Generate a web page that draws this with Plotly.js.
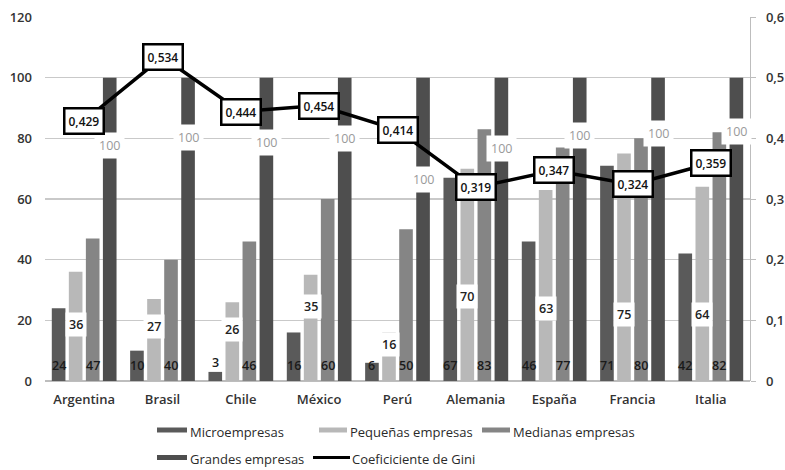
<!DOCTYPE html>
<html>
<head>
<meta charset="utf-8">
<script src="https://cdn.plot.ly/plotly-3.0.1.min.js"></script>
<style>html,body{margin:0;padding:0;background:#fff}</style>
</head>
<body>
<div id="chart" style="width:785px;height:470px"></div>
<script>
// Firm-size shares by country and the Gini coefficient
const countries = ['Argentina', 'Brasil', 'Chile', 'México', 'Perú', 'Alemania', 'España', 'Francia', 'Italia'];
const micro     = [24, 10, 3, 16, 6, 67, 46, 71, 42];
const pequenas  = [36, 27, 26, 35, 16, 70, 63, 75, 64];
const medianas  = [47, 40, 46, 60, 50, 83, 77, 80, 82];
const grandes   = [100, 100, 100, 100, 100, 100, 100, 100, 100];
const gini      = [0.429, 0.534, 0.444, 0.454, 0.414, 0.319, 0.347, 0.324, 0.359];
const seriesNames = ['Microempresas', 'Pequeñas empresas', 'Medianas empresas', 'Grandes empresas', 'Coeficiciente de Gini'];
const leftTicks  = [0, 20, 40, 60, 80, 100, 120];
const rightTicks = [0, 0.1, 0.2, 0.3, 0.4, 0.5, 0.6];

// where the boxed labels sit along each bar (left-axis units)
const pequenasLabelAt = [18.5, 18, 17, 24.5, 12, 28, 24, 22, 22];
const grandesLabelAt  = [77.5, 80.2, 78.5, 79.8, 66.3, 76.5, 81.1, 81.7, 82.4];

const colors = ['#5a5a5a', '#b8b8b8', '#858585', '#4e4e4e'];
const FONT = 'Open Sans, Lato, sans-serif';

// plot geometry
const M = {l: 45, r: 35, t: 17, b: 89};
const W = 785, H = 470;
const PW = W - M.l - M.r, PH = H - M.t - M.b;
const BARGAP = 0.13, GROUPGAP = 0.2;
const slot = (1 - BARGAP) / 4;
const offs = [-1.5 * slot, -0.5 * slot, 0.5 * slot, 1.5 * slot];

const barSeries = [micro, pequenas, medianas, grandes];
const traces = barSeries.map((vals, k) => ({
  type: 'bar',
  name: seriesNames[k],
  x: countries,
  y: vals,
  marker: {color: colors[k], line: {width: 0}},
  hoverinfo: 'skip'
}));
traces.push({
  type: 'scatter',
  mode: 'lines',
  name: seriesNames[4],
  x: countries,
  y: gini,
  yaxis: 'y2',
  line: {color: '#000', width: 3.5},
  hoverinfo: 'skip'
});

const ann = [];
const comma = v => String(v).replace('.', ',');

countries.forEach((c, i) => {
  // values at the foot of micro and medium bars
  ann.push({xref: 'x', yref: 'y', x: i + offs[0], y: micro[i] < 5 ? micro[i] + 3 : 5,
    text: String(micro[i]), showarrow: false,
    font: {family: FONT, size: 12.5, color: '#1a1a1a', weight: 600}});
  ann.push({xref: 'x', yref: 'y', x: i + offs[2], y: 5,
    text: String(medianas[i]), showarrow: false,
    font: {family: FONT, size: 12.5, color: '#1a1a1a', weight: 600}});
  // boxed small-firm value
  ann.push({xref: 'x', yref: 'y', x: i + offs[1], y: pequenasLabelAt[i],
    text: String(pequenas[i]), showarrow: false, bgcolor: '#fff', borderpad: 3,
    font: {family: FONT, size: 12.5, color: '#222', weight: 600}});
  // boxed large-firm value
  ann.push({xref: 'x', yref: 'y', x: i + offs[3], y: grandesLabelAt[i],
    text: String(grandes[i]), showarrow: false, bgcolor: '#fff', borderpad: 4,
    font: {family: FONT, size: 12.5, color: '#9a9a9a', weight: 500}});
  // Gini value boxes
  ann.push({xref: 'x', yref: 'y2', x: i, y: gini[i],
    text: gini[i].toFixed(3).replace('.', ','), showarrow: false,
    bgcolor: '#fff', bordercolor: '#000', borderwidth: 2.5, borderpad: 3,
    font: {family: FONT, size: 12, color: '#111', weight: 600}});
});

// legend drawn in paper space
const px2x = px => (px - M.l) / PW;
const py2y = py => (M.t + PH - py) / PH;
const legendItems = [
  {x0: 157, x1: 187, tx: 189, cy: 430, kind: 'bar'},
  {x0: 319, x1: 347, tx: 349, cy: 430, kind: 'bar'},
  {x0: 482, x1: 510, tx: 512, cy: 430, kind: 'bar'},
  {x0: 157, x1: 187, tx: 189, cy: 457.5, kind: 'bar'},
  {x0: 313, x1: 350, tx: 351, cy: 457.5, kind: 'line'}
];
const shapes = [];
legendItems.forEach((it, k) => {
  if (it.kind === 'bar') {
    shapes.push({type: 'rect', xref: 'paper', yref: 'paper',
      x0: px2x(it.x0), x1: px2x(it.x1), y0: py2y(it.cy + 2.5), y1: py2y(it.cy - 2.5),
      fillcolor: colors[k], line: {width: 0}});
  } else {
    shapes.push({type: 'line', xref: 'paper', yref: 'paper',
      x0: px2x(it.x0), x1: px2x(it.x1), y0: py2y(it.cy), y1: py2y(it.cy),
      line: {color: '#000', width: 3}});
  }
  ann.push({xref: 'paper', yref: 'paper', x: px2x(it.tx), y: py2y(it.cy + 1.5),
    xanchor: 'left', yanchor: 'middle', showarrow: false, text: seriesNames[k],
    borderpad: 0, font: {family: FONT, size: 13, color: '#2a2a2a', weight: 500}});
});

const tickFont = {family: FONT, size: 13, color: '#333', weight: 600};
const layout = {
  width: W, height: H,
  margin: M,
  paper_bgcolor: '#fff', plot_bgcolor: '#fff',
  separators: ', ',
  font: {family: FONT, size: 13, color: '#333'},
  barmode: 'group', bargap: BARGAP, bargroupgap: GROUPGAP,
  showlegend: false,
  xaxis: {type: 'category', range: [-0.5, 8.5], showgrid: false, showline: false,
    zeroline: false, ticks: '', tickfont: tickFont, ticklabelstandoff: 9},
  yaxis: {range: [0, 120], tickvals: leftTicks, ticktext: leftTicks.map(String),
    showgrid: true, gridcolor: '#c9c9c9', gridwidth: 1.3,
    zeroline: true, zerolinecolor: '#bdbdbd', zerolinewidth: 1.5,
    showline: false, ticks: '', tickfont: tickFont, ticklabelstandoff: 12},
  yaxis2: {overlaying: 'y', side: 'right', range: [0, 0.6], tickvals: rightTicks,
    ticktext: rightTicks.map(comma), showgrid: false, zeroline: false,
    showline: true, linecolor: '#bdbdbd', linewidth: 1.3,
    ticks: 'outside', ticklen: 5, tickcolor: '#bdbdbd',
    tickfont: tickFont, ticklabelstandoff: 7},
  shapes: shapes,
  annotations: ann
};

Plotly.newPlot('chart', traces, layout, {staticPlot: true, displayModeBar: false});
</script>
</body>
</html>
